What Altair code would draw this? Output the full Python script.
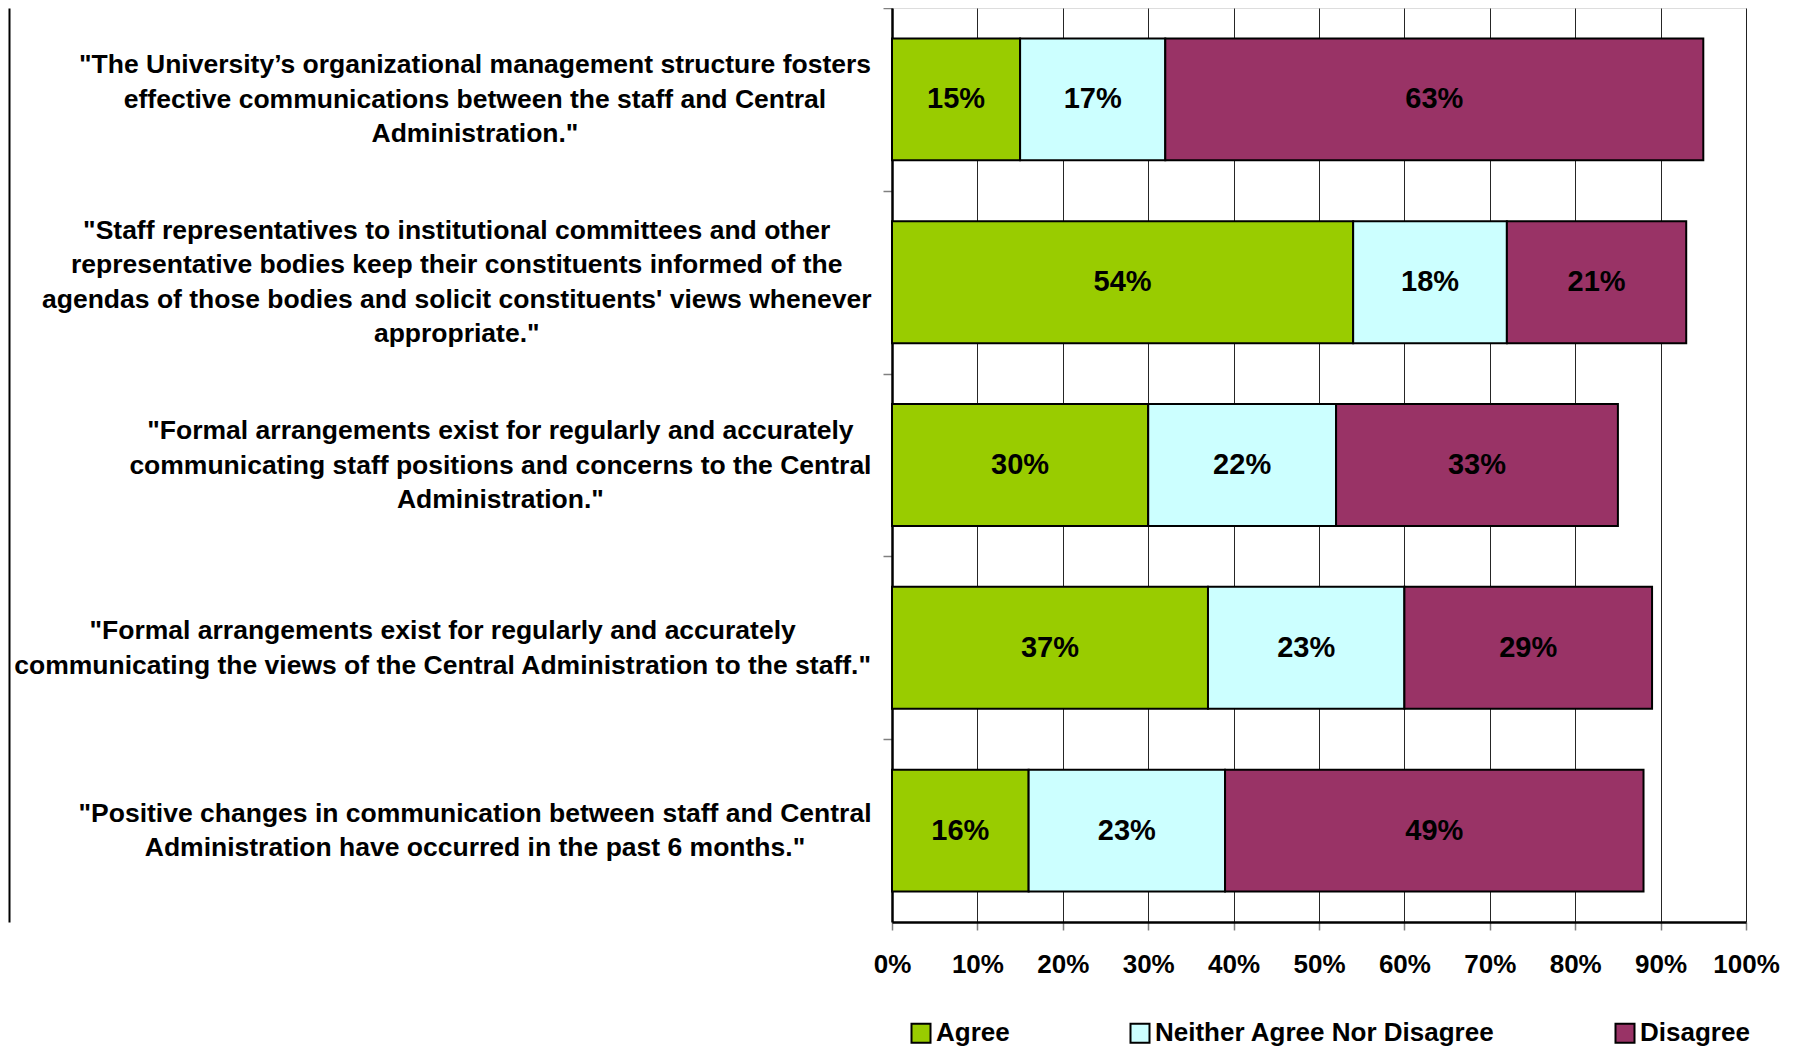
import json
import altair as alt
import pandas as pd

# ---------------- data ----------------
keys = ["Q1", "Q2", "Q3", "Q4", "Q5"]
statements = [
    ['"The University\u2019s organizational management structure fosters',
     'effective communications between the staff and Central',
     'Administration."'],
    ['"Staff representatives to institutional committees and other',
     'representative bodies keep their constituents informed of the',
     "agendas of those bodies and solicit constituents' views whenever",
     'appropriate."'],
    ['"Formal arrangements exist for regularly and accurately',
     'communicating staff positions and concerns to the Central',
     'Administration."'],
    ['"Formal arrangements exist for regularly and accurately',
     'communicating the views of the Central Administration to the staff."'],
    ['"Positive changes in communication between staff and Central',
     'Administration have occurred in the past 6 months."'],
]
responses = ["Agree", "Neither Agree Nor Disagree", "Disagree"]
agree = [15, 54, 30, 37, 16]
neither = [17, 18, 22, 23, 23]
disagree = [63, 21, 33, 29, 49]
x_ticks = [0, 10, 20, 30, 40, 50, 60, 70, 80, 90, 100]

# ---------------- styles ----------------
colors = ["#99CC00", "#CCFFFF", "#993366"]
FONT = "Liberation Sans"
LABEL_SIZE = 26.5
LINE_H = 34.5
AXIS_SIZE = 26
LEGEND_SIZE = 26
VALUE_SIZE = 29
PLOT_W, PLOT_H = 854, 914
STEP = PLOT_H / len(keys)
HALF_GAP = STEP / 3 / 2  # half the space between two bars

# Arial Bold / Liberation Sans Bold advance widths (per 1000 em)
W = {' ': 278, '"': 474, "'": 238, '\u2019': 278, '.': 278, ',': 278, '6': 556,
     'A': 722, 'C': 722, 'F': 611, 'P': 667, 'S': 667, 'T': 611, 'U': 722,
     'a': 556, 'b': 611, 'c': 556, 'd': 611, 'e': 556, 'f': 333, 'g': 611,
     'h': 611, 'i': 278, 'j': 278, 'k': 556, 'l': 278, 'm': 889, 'n': 611,
     'o': 611, 'p': 611, 'q': 611, 'r': 389, 's': 556, 't': 333, 'u': 611,
     'v': 556, 'w': 778, 'x': 556, 'y': 556, 'z': 500}


def text_width(s, size):
    return sum(W.get(ch, 556) for ch in s) * size / 1000.0


TICK = 9
GAP = 12  # distance between text block and tick end

rows = []
for i, k in enumerate(keys):
    for j, (r, v) in enumerate(zip(responses, (agree[i], neither[i], disagree[i]))):
        rows.append({"key": k, "response": r, "order": j, "value": v})
df = pd.DataFrame(rows)

label_map = "{" + ",".join(json.dumps(k) + ":" + json.dumps(s) for k, s in zip(keys, statements)) + "}"
# centre every multi-line block horizontally within a right-aligned column
pad_conditions = [
    {"test": f"datum.value === '{k}'",
     "value": GAP + max(text_width(line, LABEL_SIZE) for line in s) / 2.0}
    for k, s in zip(keys, statements)
]
# centre every multi-line block vertically on its band
offset_conditions = [
    {"test": f"datum.value === '{k}'",
     "value": HALF_GAP - (len(s) - 1) * LINE_H / 2.0}
    for k, s in zip(keys, statements)
]

base = alt.Chart(df).transform_stack(
    stack="value", groupby=["key"], sort=[alt.SortField("order")], as_=["x0", "x1"]
)

y_enc = alt.Y(
    "key:N", sort=keys, title=None,
    scale=alt.Scale(paddingInner=1 / 3, paddingOuter=1 / 6),
    axis=alt.Axis(
        labelExpr=label_map + "[datum.value]",
        labelAlign="center",
        labelBaseline="middle",
        labelFont=FONT, labelFontSize=LABEL_SIZE, labelFontWeight="bold",
        labelColor="black", labelLineHeight=LINE_H, labelLimit=3000,
        labelPadding={"condition": pad_conditions, "value": 200},
        labelOffset={"condition": offset_conditions, "value": HALF_GAP},
        bandPosition=0, tickOffset=-HALF_GAP,
        tickSize=TICK, tickColor="#808080", tickWidth=1.5,
        domainColor="black", domainWidth=2.5, grid=False,
    ),
)

bars = base.mark_bar(stroke="black", strokeWidth=2).encode(
    x=alt.X(
        "x0:Q", title=None,
        scale=alt.Scale(domain=[0, 100], nice=False),
        axis=alt.Axis(
            values=x_ticks, labelExpr="datum.value + '%'",
            labelFont=FONT, labelFontSize=AXIS_SIZE, labelFontWeight="bold",
            labelColor="black", labelPadding=21, labelFlush=False,
            tickSize=8, tickColor="#808080", tickWidth=1.5,
            domainColor="black", domainWidth=2.5,
            grid=True, gridColor="black", gridWidth=1, gridOpacity=0.85,
        ),
    ),
    x2="x1:Q",
    y=y_enc,
    color=alt.Color(
        "response:N",
        scale=alt.Scale(domain=responses, range=colors),
        legend=alt.Legend(
            title=None, orient="none", legendX=16, legendY=1012,
            direction="horizontal", columnPadding=116, padding=0,
            labelFont=FONT, labelFontSize=LEGEND_SIZE, labelFontWeight="bold",
            labelColor="black", labelOffset=2, labelLimit=1000,
            symbolType="square", symbolSize=361, symbolStrokeColor="black",
            symbolStrokeWidth=2, symbolOpacity=1,
        ),
    ),
)

labels = base.transform_calculate(
    mid="(datum.x0 + datum.x1) / 2", lbl="datum.value + '%'"
).mark_text(
    font=FONT, fontSize=VALUE_SIZE, fontWeight="bold", color="black",
    align="center", baseline="middle",
).encode(
    x=alt.X("mid:Q"),
    y=alt.Y("key:N", sort=keys),
    text="lbl:N",
)

bar_layer = alt.layer(bars, labels)

# outer frame line on the far left of the chart area (an axis domain only)
frame = alt.Chart(df).mark_point(opacity=0).encode(
    x=alt.X("value:Q"),
    y=alt.Y(
        "value:Q",
        axis=alt.Axis(
            orient="left", offset=883, labels=False, ticks=False, title=None,
            grid=False, domainColor="black", domainWidth=2,
        ),
    ),
)

chart = alt.layer(bar_layer, frame).resolve_scale(
    y="independent"
).resolve_axis(y="independent").properties(
    width=PLOT_W, height=PLOT_H,
    autosize="none",
    padding={"left": 884, "top": 0, "right": 36, "bottom": 125},
).configure_view(
    stroke="black", strokeWidth=2.5
).configure(font=FONT)

chart.save("out.html", embed_options={"renderer": "svg", "actions": False})
